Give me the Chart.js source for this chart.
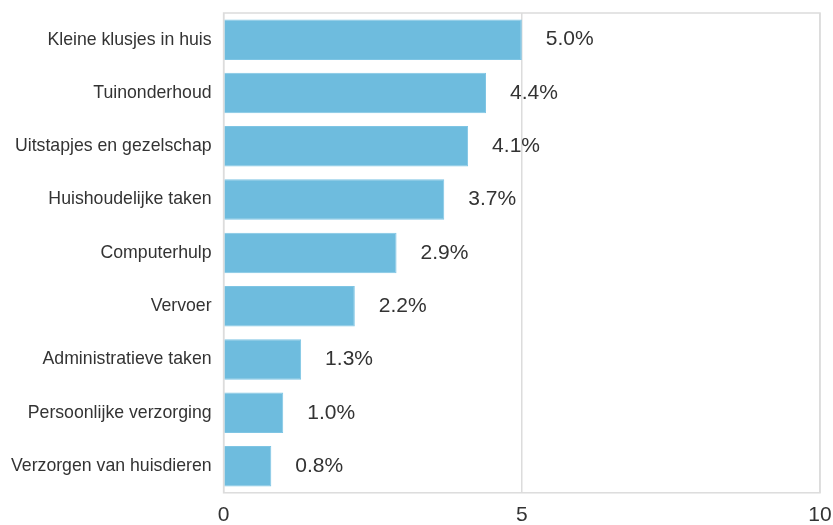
<!DOCTYPE html>
<html>
<head>
<meta charset="utf-8">
<script src="https://cdn.jsdelivr.net/npm/chart.js@4"></script>
<style>
  html, body { margin: 0; padding: 0; background: #fff; overflow: hidden; }
  #wrap { width: 833px; height: 525px; }
</style>
</head>
<body>
<div id="wrap"><canvas id="myChart"></canvas></div>
<script>
var categories = [
    "Kleine klusjes in huis",
    "Tuinonderhoud",
    "Uitstapjes en gezelschap",
    "Huishoudelijke taken",
    "Computerhulp",
    "Vervoer",
    "Administratieve taken",
    "Persoonlijke verzorging",
    "Verzorgen van huisdieren"
];
var percentages = [5.0, 4.4, 4.1, 3.7, 2.9, 2.2, 1.3, 1.0, 0.8];
var xTicks = [0, 5, 10];

var fontFamily = "'Liberation Sans', Arial, sans-serif";

// waarde-labels rechts naast de balken + rand om het plotvlak
var valueLabels = {
    id: "valueLabels",
    afterDatasetsDraw: function (chart) {
        var ctx = chart.ctx;
        var area = chart.chartArea;
        ctx.save();
        ctx.strokeStyle = "#dcdcdc";
        ctx.lineWidth = 1.5;
        ctx.strokeRect(area.left, area.top, area.right - area.left, area.bottom - area.top);
        ctx.fillStyle = "#333333";
        ctx.font = "21px " + fontFamily;
        ctx.textAlign = "left";
        ctx.textBaseline = "middle";
        chart.getDatasetMeta(0).data.forEach(function (bar, i) {
            ctx.fillText(percentages[i].toFixed(1) + "%", bar.x + 24, bar.y);
        });
        ctx.restore();
    }
};

// geen extra ruimte voor overlopende labels, marges via layout.padding
function noOverflow(axis) {
    axis.paddingTop = 0;
    axis.paddingBottom = 0;
    axis.paddingLeft = 0;
    axis.paddingRight = 0;
}

document.addEventListener("DOMContentLoaded", function () {
    var ctx = document.getElementById("myChart").getContext("2d");
    new Chart(ctx, {
        type: "bar",
        data: {
            labels: categories,
            datasets: [{
                data: percentages,
                backgroundColor: "#6ebcde",
                borderColor: "#7fc5e4",
                borderWidth: 1,
                barPercentage: 0.76,
                categoryPercentage: 1.0
            }]
        },
        options: {
            indexAxis: "y",
            responsive: true,
            maintainAspectRatio: false,
            animation: false,
            layout: { padding: { top: 13, right: 13, bottom: -13, left: -1 } },
            plugins: {
                legend: { display: false },
                tooltip: { enabled: false }
            },
            scales: {
                x: {
                    min: 0,
                    max: 10,
                    afterBuildTicks: function (axis) {
                        axis.ticks = xTicks.map(function (v) { return { value: v }; });
                    },
                    afterFit: noOverflow,
                    grid: { color: "#dcdcdc", lineWidth: 1.5, drawTicks: false },
                    border: { display: false },
                    ticks: {
                        color: "#333333",
                        padding: 10,
                        font: { size: 21, family: fontFamily }
                    }
                },
                y: {
                    afterFit: noOverflow,
                    grid: { display: false, drawTicks: false },
                    border: { display: false },
                    ticks: {
                        color: "#333333",
                        padding: 12,
                        font: { size: 17.7, family: fontFamily }
                    }
                }
            }
        },
        plugins: [valueLabels]
    });
});
</script>
</body>
</html>
